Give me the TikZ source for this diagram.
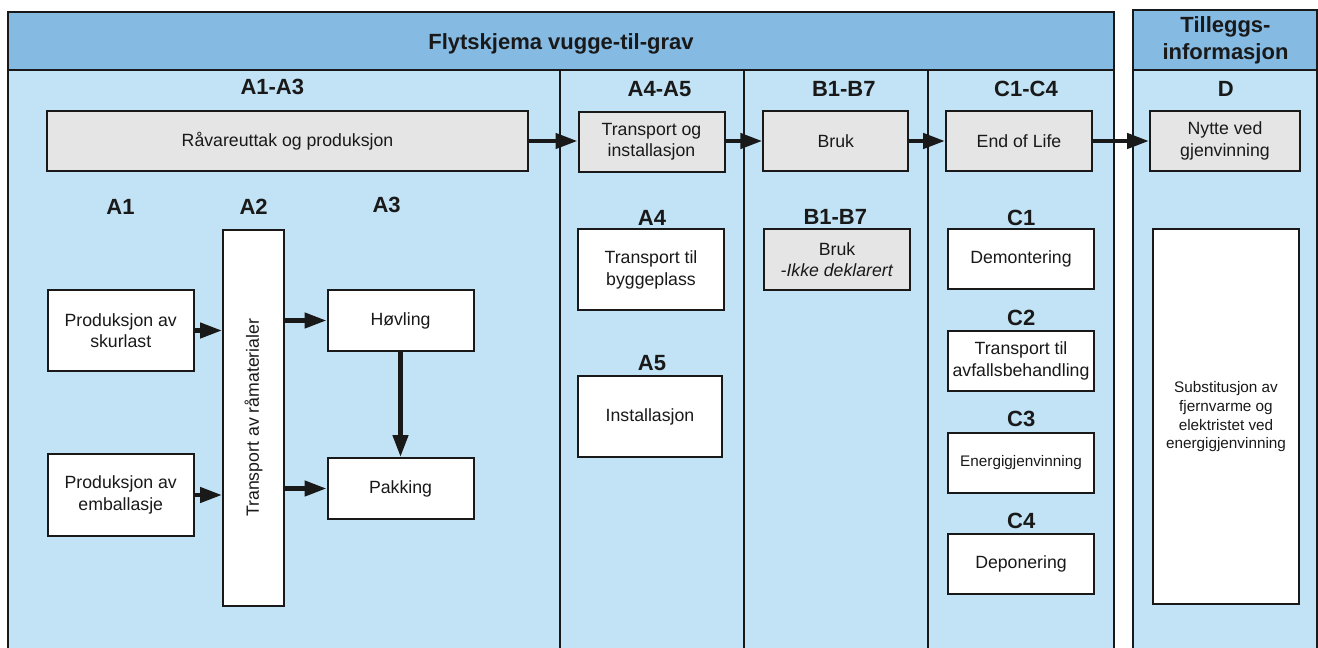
\documentclass[tikz,border=0pt]{standalone}
\usepackage{fontspec}
\setmainfont{Liberation Sans}
\usetikzlibrary{arrows.meta}
\definecolor{hdrblue}{RGB}{133,186,227}
\definecolor{bodyblue}{RGB}{194,227,245}
\definecolor{boxgray}{RGB}{229,229,229}
\definecolor{ink}{RGB}{25,25,25}
\begin{document}
\begin{tikzpicture}[x=1pt,y=-1pt,
  frame/.style={draw=ink, line width=2pt},
  boxbase/.style={draw=ink, line width=2pt, align=center, inner sep=2pt, text=ink,
    font=\fontsize{17.7}{21.5}\selectfont},
  graybox/.style={boxbase, fill=boxgray},
  whitebox/.style={boxbase, fill=white},
  smalltext/.style={font=\fontsize{15.3}{18.8}\selectfont},
  heading/.style={font=\fontsize{22}{26.5}\selectfont\bfseries, text=ink, inner sep=0pt, align=center},
  flow/.style={draw=ink, line width=4.5pt, -{Triangle[length=22pt,width=15pt]}},
]
\useasboundingbox (0,0) rectangle (1318,648);
\clip (0,0) rectangle (1318,648);
% frames
\fill[bodyblue] (8,12) rectangle (1114,648);
\fill[hdrblue] (8,12) rectangle (1114,69.5);
\fill[bodyblue] (1133,10) rectangle (1317,648);
\fill[hdrblue] (1133,10) rectangle (1317,69.5);
\draw[frame] (8,650) -- (8,12) -- (1114,12) -- (1114,650);
\draw[frame] (8,69.5) -- (1114,69.5);
\draw[frame] (560,69.5) -- (560,650);
\draw[frame] (744,69.5) -- (744,650);
\draw[frame] (928,69.5) -- (928,650);
\draw[frame] (1133,650) -- (1133,10) -- (1317,10) -- (1317,650);
\draw[frame] (1133,69.5) -- (1317,69.5);

% headings
\node[heading, anchor=base] (title) at (561,49.6) {Flytskjema vugge-til-grav};
\node[heading] (tillegg) at (1225.5,40.5) {Tilleggs-\\informasjon};
\node[heading] (colA13) at (272.3,87.3) {A1-A3};
\node[heading] (colA45) at (659.5,89.3) {A4-A5};
\node[heading] (colB) at (843.8,89.3) {B1-B7};
\node[heading] (colC) at (1026,89.3) {C1-C4};
\node[heading] (colD) at (1225.7,89.3) {D};

\node[heading] (lA1) at (120.5,207) {A1};
\node[heading] (lA2) at (253.6,207) {A2};
\node[heading] (lA3) at (386.6,205) {A3};
\node[heading] (lA4) at (652,217.7) {A4};
\node[heading] (lA5) at (652,363) {A5};
\node[heading] (lB) at (835.3,216.7) {B1-B7};
\node[heading] (lC1) at (1021.3,217.7) {C1};
\node[heading] (lC2) at (1021.3,318) {C2};
\node[heading] (lC3) at (1021.3,419) {C3};
\node[heading] (lC4) at (1021.3,520.7) {C4};

% top row
\node[graybox, minimum width=481pt, minimum height=60pt] (raw) at (287.5,141) {Råvareuttak og produksjon};
\node[graybox, minimum width=146pt, minimum height=60pt] (trans) at (651.5,141.5) {Transport og\\installasjon};
\node[graybox, minimum width=145pt, minimum height=60pt] (bruk) at (835.8,141) {Bruk};
\node[graybox, minimum width=146pt, minimum height=60pt] (eol) at (1019,141) {End of Life};
\node[graybox, minimum width=150pt, minimum height=60pt] (nytte) at (1225,141) {Nytte ved\\gjenvinning};

% A1-A3 detail
\node[whitebox, minimum width=146.5pt, minimum height=81pt] (skurlast) at (120.75,330.5) {Produksjon av\\skurlast};
\node[whitebox, minimum width=146.5pt, minimum height=82pt] (emball) at (120.75,495) {Produksjon av\\emballasje};
\node[whitebox, rotate=90, minimum width=376.5pt, minimum height=61pt] (rama) at (253.5,417.75) {Transport av råmaterialer};
\node[whitebox, minimum width=146pt, minimum height=61pt] (hovl) at (400.5,320.5) {Høvling};
\node[whitebox, minimum width=146pt, minimum height=61pt] (pakk) at (400.5,488.5) {Pakking};

% A4-A5 detail
\node[whitebox, minimum width=146pt, minimum height=80.7pt] (tbygg) at (651,269.7) {Transport til\\byggeplass};
\node[whitebox, minimum width=144pt, minimum height=81pt] (inst) at (650,416.5) {Installasjon};

% B detail
\node[graybox, minimum width=146pt, minimum height=61pt] (brukd) at (837,259.5) {Bruk\\\textit{-Ikke deklarert}};

% C detail
\node[whitebox, minimum width=146pt, minimum height=60pt] (demo) at (1021,259.3) {Demontering};
\node[whitebox, minimum width=146pt, minimum height=60pt] (tavf) at (1021,360.7) {Transport til\\avfallsbehandling};
\node[whitebox, smalltext, minimum width=146pt, minimum height=60pt] (energi) at (1021,462.5) {Energigjenvinning};
\node[whitebox, minimum width=146pt, minimum height=60pt] (depon) at (1021,563.5) {Deponering};

% D detail
\node[whitebox, smalltext, minimum width=146pt, minimum height=375pt] (subst) at (1226,416.7) {Substitusjon av\\fjernvarme og\\elektristet ved\\energigjenvinning};

% connectors
\draw[flow] (raw.east) -- (trans.west |- raw.east);
\draw[flow] (trans.east |- bruk.west) -- (bruk.west);
\draw[flow] (bruk.east) -- (eol.west);
\draw[flow] (eol.east) -- (nytte.west);
\draw[flow] (skurlast.east) -- (skurlast.east -| rama.north);
\draw[flow] (emball.east) -- (emball.east -| rama.north);
\draw[flow] (rama.south |- hovl.west) -- (hovl.west);
\draw[flow] (rama.south |- pakk.west) -- (pakk.west);
\draw[flow] (hovl.south) -- (pakk.north);
\end{tikzpicture}
\end{document}
